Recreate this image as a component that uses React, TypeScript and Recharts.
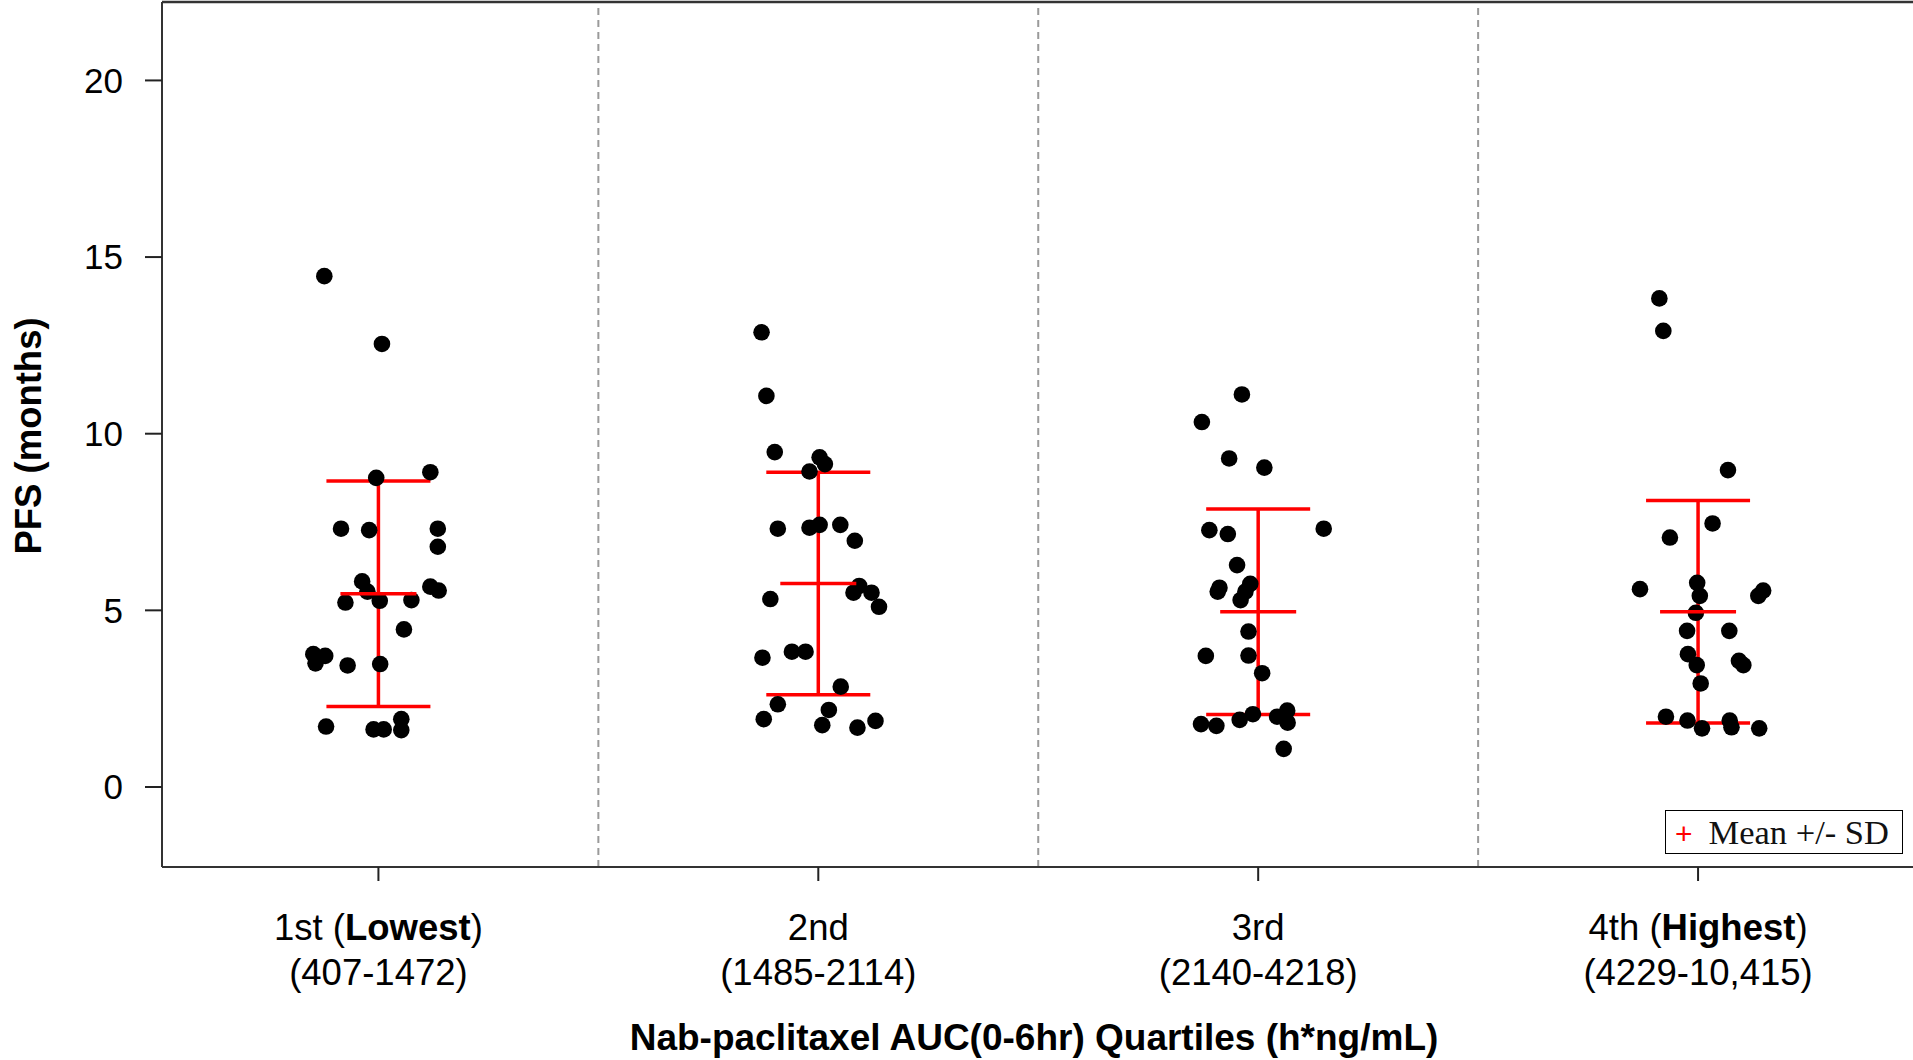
import React from "react";
import {
  ScatterChart,
  Scatter,
  XAxis,
  YAxis,
  ErrorBar,
  ReferenceLine,
} from "recharts";

// quartile tick labels
const QUARTILE_NAMES = ["1st", "2nd", "3rd", "4th"];
const QUARTILE_NOTES = ["Lowest", "", "", "Highest"];
const QUARTILE_RANGES = ["(407-1472)", "(1485-2114)", "(2140-4218)", "(4229-10,415)"];
const Y_TICKS = [0, 5, 10, 15, 20];

// PFS per patient (months) and horizontal jitter within the quartile
const Q1_PFS = [14.46, 12.54, 8.75, 8.91, 7.31, 7.27, 7.31, 6.8, 5.82, 5.53, 5.22, 5.27, 5.29, 5.67, 5.56, 4.46, 3.76, 3.71, 3.5, 3.44, 3.48, 1.71, 1.63, 1.63, 1.92, 1.61];
const Q1_JITTER = [-0.123, 0.008, -0.005, 0.118, -0.085, -0.021, 0.135, 0.135, -0.037, -0.025, -0.075, 0.003, 0.075, 0.118, 0.137, 0.058, -0.148, -0.121, -0.143, -0.07, 0.004, -0.119, -0.011, 0.012, 0.052, 0.052];

const Q2_PFS = [12.87, 11.07, 9.48, 9.33, 9.14, 8.93, 7.31, 7.34, 7.42, 7.42, 6.97, 5.69, 5.5, 5.5, 5.1, 5.32, 3.66, 3.83, 3.83, 2.84, 2.34, 1.92, 2.18, 1.75, 1.68, 1.87];
const Q2_JITTER = [-0.129, -0.118, -0.099, 0.003, 0.015, -0.02, -0.092, -0.02, 0.003, 0.05, 0.083, 0.093, 0.08, 0.121, 0.138, -0.109, -0.127, -0.06, -0.029, 0.051, -0.092, -0.124, 0.024, 0.009, 0.089, 0.13];

const Q3_PFS = [11.11, 10.33, 9.3, 9.04, 7.27, 7.16, 7.31, 6.28, 5.75, 5.64, 5.53, 5.53, 5.29, 4.4, 3.71, 3.72, 3.22, 1.78, 1.73, 1.9, 2.06, 1.99, 2.16, 1.82, 1.08];
const Q3_JITTER = [-0.037, -0.128, -0.066, 0.014, -0.111, -0.069, 0.149, -0.048, -0.018, -0.088, -0.092, -0.029, -0.04, -0.022, -0.119, -0.022, 0.009, -0.13, -0.095, -0.042, -0.012, 0.043, 0.066, 0.067, 0.058];

const Q4_PFS = [13.83, 12.91, 8.97, 7.46, 7.06, 5.6, 5.78, 5.41, 5.56, 5.41, 4.93, 4.42, 4.42, 3.76, 3.45, 3.57, 3.45, 2.93, 1.99, 1.88, 1.66, 1.88, 1.69, 1.66];
const Q4_JITTER = [-0.088, -0.079, 0.068, 0.033, -0.064, -0.132, -0.002, 0.004, 0.148, 0.137, -0.005, -0.025, 0.071, -0.023, -0.003, 0.093, 0.103, 0.006, -0.073, -0.024, 0.009, 0.072, 0.076, 0.139];

const MEANS = [5.47, 5.76, 4.96, 4.96];
const SDS = [3.19, 3.15, 2.91, 3.15];

const Y_MIN = -2.265;
const Y_MAX = 22.22;

const FONT = "'Liberation Sans', Arial, Helvetica, sans-serif";

const groups = [
  [Q1_PFS, Q1_JITTER],
  [Q2_PFS, Q2_JITTER],
  [Q3_PFS, Q3_JITTER],
  [Q4_PFS, Q4_JITTER],
];

const points = groups.flatMap(([pfs, jitter], g) =>
  pfs.map((v, i) => ({ x: g + 1 + jitter[i], y: v }))
);

const meanData = MEANS.map((m, i) => ({ x: i + 1, y: m, sd: SDS[i] }));

const separators = QUARTILE_NAMES.slice(1).map((_, i) => i + 1.5);

function QuartileTick(props: any) {
  const { x, y, payload } = props;
  const i = Math.round(payload.value) - 1;
  const note = QUARTILE_NOTES[i];
  return (
    <text x={x} y={y} textAnchor="middle" fontSize={36.5} fontFamily={FONT} fill="#000">
      <tspan x={x} y={y + 57}>
        {note ? `${QUARTILE_NAMES[i]} (` : QUARTILE_NAMES[i]}
        {note && <tspan fontWeight="bold">{note}</tspan>}
        {note && ")"}
      </tspan>
      <tspan x={x} y={y + 102}>
        {QUARTILE_RANGES[i]}
      </tspan>
    </text>
  );
}

const dot = (p: any) => <circle cx={p.cx} cy={p.cy} r={8.3} fill="#000" />;

const meanTick = (p: any) => (
  <line x1={p.cx - 38} x2={p.cx + 38} y1={p.cy} y2={p.cy} stroke="#ff0000" strokeWidth={3.5} />
);

export default function App() {
  return (
    <div style={{ position: "absolute", left: 0, top: 0, width: 1913, height: 1060, overflow: "hidden", background: "#fff" }}>
      <ScatterChart width={1920} height={1060} margin={{ top: 2, right: 2, bottom: 0, left: 0 }}>
        <XAxis
          type="number"
          dataKey="x"
          domain={[0.508, 4.5]}
          ticks={[1, 2, 3, 4]}
          allowDataOverflow
          height={193}
          tickSize={14}
          stroke="#333"
          strokeWidth={2}
          tickLine={{ stroke: "#222", strokeWidth: 2 }}
          tick={<QuartileTick />}
          label={(p: any) => (
            <text x={1034} y={1050} textAnchor="middle" fontSize={37} fontWeight="bold" fontFamily={FONT} fill="#000">
              Nab-paclitaxel AUC(0-6hr) Quartiles (h*ng/mL)
            </text>
          )}
        />
        <YAxis
          type="number"
          dataKey="y"
          domain={[Y_MIN, Y_MAX]}
          ticks={Y_TICKS}
          allowDataOverflow
          width={162}
          tickSize={17}
          tickMargin={22}
          stroke="#333"
          strokeWidth={2}
          tickLine={{ stroke: "#222", strokeWidth: 2 }}
          tick={{ fontSize: 35, fontFamily: FONT, fill: "#000" }}
          label={(p: any) => (
            <text
              x={41}
              y={436}
              transform="rotate(-90, 41, 436)"
              textAnchor="middle"
              fontSize={36.5}
              fontWeight="bold"
              fontFamily={FONT}
              fill="#000"
            >
              PFS (months)
            </text>
          )}
        />
        {separators.map((s) => (
          <ReferenceLine key={s} x={s} stroke="#9a9a9a" strokeWidth={2} strokeDasharray="7 5" />
        ))}
        <ReferenceLine y={Y_MAX} stroke="#333" strokeWidth={2.5} />
        <Scatter data={points} shape={dot} isAnimationActive={false} />
        <Scatter data={meanData} shape={meanTick} isAnimationActive={false}>
          <ErrorBar dataKey="sd" direction="y" width={52} stroke="#ff0000" strokeWidth={3.5} isAnimationActive={false} />
        </Scatter>
      </ScatterChart>
      <div
        style={{
          position: "absolute",
          left: 1665,
          top: 810,
          width: 236,
          height: 42,
          border: "1.5px solid #000",
          background: "#fff",
          fontFamily: "'Liberation Serif', 'Times New Roman', serif",
          fontSize: 34.5,
          lineHeight: "42px",
          color: "#111",
          whiteSpace: "nowrap",
        }}
      >
        <span style={{ color: "#ff0000", fontFamily: FONT, fontSize: 30, marginLeft: 9, marginRight: 16 }}>+</span>
        Mean +/- SD
      </div>
    </div>
  );
}
